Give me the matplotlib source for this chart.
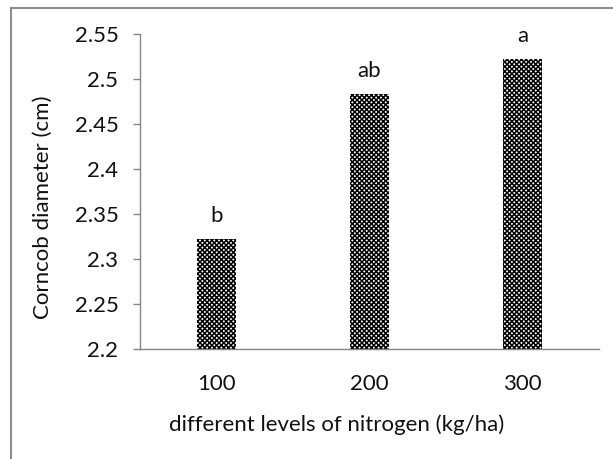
import numpy as np
import matplotlib
matplotlib.use('Agg')
import matplotlib.pyplot as plt
from matplotlib.lines import Line2D

# ---------------------------------------------------------------- data ----------------------------------------------------------------#
levels = ['100', '200', '300']
diameter = [2.322, 2.483, 2.522]
letters = ['b', 'ab', 'a']
letter_gap = 0.026
y_ticks = [2.2, 2.25, 2.3, 2.35, 2.4, 2.45, 2.5, 2.55]
y_tick_labels = ['2.2', '2.25', '2.3', '2.35', '2.4', '2.45', '2.5', '2.55']
# --------------------------------------------------------------------------------------------------------------------------------------#

W, H = 613, 459
FS = 16
plt.rcParams['font.family'] = ['Lato', 'DejaVu Sans']
plt.rcParams['hatch.linewidth'] = 1.1

fig = plt.figure(figsize=(W / 100, H / 100), dpi=100)
ax = fig.add_axes([140 / W, 1 - 349 / H, (599 - 140) / W, (349 - 34) / H])

x = np.arange(len(levels))
ax.bar(x, diameter, width=0.26, bottom=0, color='white', edgecolor='black',
       hatch='xxxxxxx', linewidth=0)

for xi, v, t in zip(x, diameter, letters):
    ax.text(xi, v + letter_gap, t, ha='center', va='center', fontsize=FS, color='#111111')

ax.set_xlim(-0.5, 2.5)
ax.set_ylim(2.2, 2.55)
ax.set_yticks(y_ticks)
ax.set_yticklabels(y_tick_labels)
ax.set_xticks(x)
ax.set_xticklabels(levels)

grey = '#868686'
for s in ['top', 'right']:
    ax.spines[s].set_visible(False)
for s in ['left', 'bottom']:
    ax.spines[s].set_color(grey)
    ax.spines[s].set_linewidth(1.0)

ax.tick_params(axis='y', length=5, width=1.0, color=grey, pad=10.5, labelsize=FS, labelcolor='#111111')
ax.tick_params(axis='x', length=0, pad=18, labelsize=FS, labelcolor='#111111')

fig.text(337 / W, 1 - 425 / H, 'different levels of nitrogen (kg/ha)', ha='center', va='center',
         fontsize=FS, color='#111111')
fig.text(43 / W, 1 - 207 / H, 'Corncob diameter (cm)', ha='center', va='center', rotation=90,
         fontsize=FS, color='#111111')

# outer chart frame (only the top and left edges are visible)
fig.add_artist(Line2D([10.5 / W, 10.5 / W], [0, 1 - 7.5 / H], transform=fig.transFigure, color='#8c8c8c', lw=1.5))
fig.add_artist(Line2D([10.5 / W, 1], [1 - 7.5 / H, 1 - 7.5 / H], transform=fig.transFigure, color='#8c8c8c', lw=1.5))

fig.savefig('out.png', dpi=100)
